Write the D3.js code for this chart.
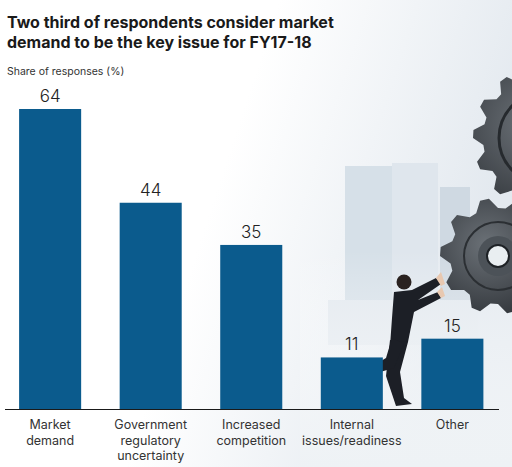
<!DOCTYPE html>
<html>
<head>
<meta charset="utf-8">
<script src="https://cdn.jsdelivr.net/npm/d3@7"></script>
<style>
  body { margin: 0; background: #fff; }
  text { font-family: Inter, "Noto Sans", sans-serif; }
</style>
</head>
<body>
<script>
var categories = [["Market", "demand"], ["Government", "regulatory", "uncertainty"], ["Increased", "competition"], ["Internal", "issues/readiness"], ["Other"]];
var shares = [64, 44, 35, 11, 15];
var titleLines = ["Two third of respondents consider market", "demand to be the key issue for FY17-18"];
var axisTitle = "Share of responses (%)";

var W = 512, H = 467;
var baseY = 409, topY = 109;

var svg = d3.select("body").append("svg")
    .attr("width", W)
    .attr("height", H);

var defs = svg.append("defs");
var bg = defs.append("linearGradient").attr("id", "bg").attr("x1", 0).attr("y1", 0).attr("x2", 1).attr("y2", 0.3);
bg.append("stop").attr("offset", "0.5").attr("stop-color", "#ffffff");
bg.append("stop").attr("offset", "1").attr("stop-color", "#e3e9ef");
var fog = defs.append("linearGradient").attr("id", "fog").attr("x1", 0).attr("y1", 0).attr("x2", 0).attr("y2", 1);
fog.append("stop").attr("offset", "0").attr("stop-color", "#ffffff").attr("stop-opacity", 0);
fog.append("stop").attr("offset", "1").attr("stop-color", "#eef2f5").attr("stop-opacity", 1);
var gearGrad = defs.append("radialGradient").attr("id", "gear").attr("cx", 0.4).attr("cy", 0.4).attr("r", 0.7);
gearGrad.append("stop").attr("offset", "0").attr("stop-color", "#6b7177");
gearGrad.append("stop").attr("offset", "1").attr("stop-color", "#2f3338");

svg.append("rect").attr("width", W).attr("height", H).attr("fill", "url(#bg)");

// background decoration: city, gears, businessman
var deco = svg.append("g");
var towers = [[345, 166, 47, 170, "#d6e0e8"], [392, 163, 46, 165, "#dfe6ed"], [440, 187, 30, 130, "#cfd9e2"], [328, 300, 150, 45, "#e2e8ee"]];
towers.forEach(function(t) {
  deco.append("rect").attr("x", t[0]).attr("y", t[1]).attr("width", t[2]).attr("height", t[3]).attr("fill", t[4]);
});
deco.append("rect").attr("x", 300).attr("y", 250).attr("width", 212).attr("height", 217).attr("fill", "url(#fog)");

function gear(cx, cy, rOuter, rBody, teeth) {
  var pts = [];
  var n = teeth * 4;
  for (var i = 0; i < n; i++) {
    var a = (i / n) * 2 * Math.PI;
    var r = (i % 4 < 2) ? rOuter : rBody;
    pts.push([cx + r * Math.cos(a), cy + r * Math.sin(a)]);
  }
  return "M" + pts.map(function(p) { return p.join(","); }).join("L") + "Z";
}
deco.append("path").attr("d", gear(545, 138, 72, 62, 14)).attr("fill", "url(#gear)");
deco.append("circle").attr("cx", 545).attr("cy", 138).attr("r", 46).attr("fill", "none").attr("stroke", "#262a2e").attr("stroke-width", 3);
deco.append("path").attr("d", gear(498, 256, 58, 48, 10)).attr("fill", "url(#gear)");
deco.append("circle").attr("cx", 498).attr("cy", 256).attr("r", 34).attr("fill", "none").attr("stroke", "#2b2f33").attr("stroke-width", 2);
deco.append("circle").attr("cx", 498).attr("cy", 256).attr("r", 20).attr("fill", "#4c5258");
deco.append("circle").attr("cx", 498).attr("cy", 256).attr("r", 11).attr("fill", "#e9eef1").attr("stroke", "#1e2226").attr("stroke-width", 2);

var man = deco.append("g").attr("fill", "#1c1f26");
man.append("circle").attr("cx", 404).attr("cy", 282).attr("r", 7.5).attr("fill", "#2a2220");
// torso and arms
man.append("path").attr("d", "M394,292 L412,290 L436,278 L441,284 L418,300 L438,292 L441,298 L414,312 L408,342 L390,346 L392,318 Z");
// back leg
man.append("path").attr("d", "M390,340 L408,342 L400,372 L404,398 L412,404 L396,406 L386,376 Z");
// front leg bent
man.append("path").attr("d", "M392,338 L404,344 L394,368 L380,372 L376,364 L386,358 Z");
man.append("path").attr("d", "M436,278 L441,272 L445,284 L441,286 Z").attr("fill", "#e8c8b0");
man.append("path").attr("d", "M437,292 L442,287 L445,296 L441,298 Z").attr("fill", "#e8c8b0");

var x = d3.scaleBand()
    .domain(d3.range(categories.length))
    .range([0, 502.5])
    .paddingInner(0.383)
    .paddingOuter(0.19);

var y = d3.scaleLinear()
    .domain([0, 64])
    .range([baseY, topY]);

svg.selectAll(".bar")
    .data(shares)
    .enter().append("rect")
    .attr("class", "bar")
    .attr("x", function(d, i) { return x(i); })
    .attr("y", function(d) { return y(d); })
    .attr("width", x.bandwidth())
    .attr("height", function(d) { return baseY - y(d); })
    .attr("fill", "#0b5b8d");

svg.selectAll(".val")
    .data(shares)
    .enter().append("text")
    .attr("class", "val")
    .attr("x", function(d, i) { return x(i) + x.bandwidth() / 2; })
    .attr("y", function(d) { return y(d) - 7; })
    .attr("text-anchor", "middle")
    .attr("font-size", 17)
    .attr("font-weight", 300)
    .attr("fill", "#222")
    .text(function(d) { return d; });

svg.append("line")
    .attr("x1", 5).attr("x2", 499)
    .attr("y1", baseY + 0.5).attr("y2", baseY + 0.5)
    .attr("stroke", "#1a1a1a").attr("stroke-width", 1);

var labs = svg.selectAll(".cat")
    .data(categories)
    .enter().append("text")
    .attr("class", "cat")
    .attr("text-anchor", "middle")
    .attr("font-size", 12.5)
    .attr("fill", "#333");
labs.selectAll("tspan")
    .data(function(d, i) { return d.map(function(s) { return {s: s, i: i}; }); })
    .enter().append("tspan")
    .attr("x", function(d) { return x(d.i) + x.bandwidth() / 2; })
    .attr("y", function(d, j) { return 429 + j * 15.5; })
    .text(function(d) { return d.s; });

svg.selectAll(".title")
    .data(titleLines)
    .enter().append("text")
    .attr("x", 7)
    .attr("y", function(d, i) { return 28 + i * 19.5; })
    .attr("font-size", 16)
    .attr("font-weight", 700)
    .attr("fill", "#1a1a1a")
    .text(function(d) { return d; });

svg.append("text")
    .attr("x", 7).attr("y", 75)
    .attr("font-size", 10.5)
    .attr("fill", "#333")
    .text(axisTitle);
</script>
</body>
</html>
